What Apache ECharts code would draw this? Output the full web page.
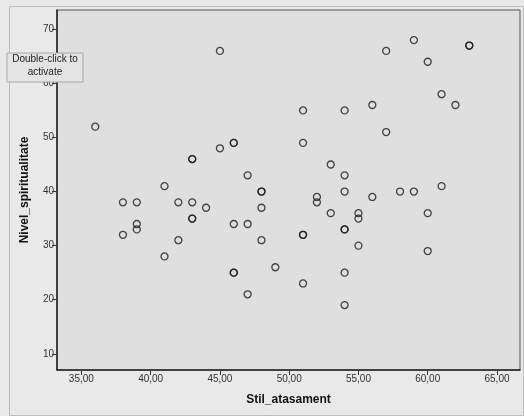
<!DOCTYPE html>
<html>
<head>
<meta charset="utf-8">
<script src="https://cdn.jsdelivr.net/npm/echarts@6/dist/echarts.min.js"></script>
<style>
html,body{margin:0;padding:0;background:#e9e9e9;}
#chart{width:524px;height:416px;}
</style>
</head>
<body>
<div id="chart"></div>
<script>
// Stil_atasament values
var stilAtasament = [36,45,45,46,46,43,43,47,41,38,39,42,43,44,48,48,48,57,59,63,63,60,61,62,51,54,56,57,51,53,54,54,56,58,59,61,52,52,38,39,39,43,43,42,41,46,47,46,46,47,48,53,55,55,60,51,51,54,54,55,60,49,54,51,54];
// Nivel_spiritualitate values
var nivelSpiritualitate = [52,66,48,49,49,46,46,43,41,38,38,38,38,37,40,40,37,66,68,67,67,64,58,56,55,55,56,51,49,45,43,40,39,40,40,41,39,38,32,34,33,35,35,31,28,34,34,25,25,21,31,36,36,35,36,32,32,33,33,30,29,26,25,23,19];
var xTicks = [35,40,45,50,55,60,65];
var yTicks = [10,20,30,40,50,60,70];
var xTitle = 'Stil_atasament';
var yTitle = 'Nivel_spiritualitate';

var points = stilAtasament.map(function(x, i){ return [x, nivelSpiritualitate[i]]; });

var chart = echarts.init(document.getElementById('chart'), null, {renderer:'canvas'});
var font = 'Liberation Sans, Arial, sans-serif';
chart.setOption({
  backgroundColor: '#e9e9e9',
  animation: false,
  grid: {left: 57, top: 10, right: 4, bottom: 46, show: true, backgroundColor: '#dfdfdf', borderColor: '#555', borderWidth: 1},
  xAxis: {
    type: 'value', min: 33.24, max: 66.66,
    name: xTitle, nameLocation: 'middle', nameGap: 24,
    nameTextStyle: {fontFamily: font, fontWeight: 'bold', fontSize: 12, color: '#111'},
    axisLine: {show: true, lineStyle: {color: '#222', width: 1.5}},
    axisTick: {show: true, length: 5, lineStyle: {color: '#333'}, customValues: xTicks},
    axisLabel: {fontFamily: font, fontSize: 10, color: '#333', margin: 4, customValues: xTicks,
      formatter: function(v){ return v.toFixed(2).replace('.', ','); }},
    splitLine: {show: false}
  },
  yAxis: {
    type: 'value', min: 7, max: 73.57,
    name: yTitle, nameLocation: 'middle', nameGap: 26, nameRotate: 90,
    nameTextStyle: {fontFamily: font, fontWeight: 'bold', fontSize: 12, color: '#111'},
    axisLine: {show: true, lineStyle: {color: '#222', width: 1.5}},
    axisTick: {show: true, length: 5, lineStyle: {color: '#333'}, customValues: yTicks},
    axisLabel: {fontFamily: font, fontSize: 10, color: '#333', margin: 3, customValues: yTicks,
      formatter: function(v){ return String(Math.round(v)); }},
    splitLine: {show: false}
  },
  series: [{
    type: 'scatter',
    data: points,
    symbol: 'circle',
    symbolSize: 7,
    itemStyle: {color: 'rgba(0,0,0,0)', borderColor: '#1a1a1a', borderWidth: 1.3}
  }],
  graphic: [
    {type: 'rect', left: 7, top: 4, shape: {width: 514, height: 409}, style: {fill: 'none', stroke: '#bdbdbd', lineWidth: 1}, silent: true},
    {type: 'rect', x: 7, y: 53, shape: {x: 0, y: 0, width: 76, height: 29}, style: {fill: '#e4e4e4', stroke: '#a8a8a8', lineWidth: 1}, z: 100},
    {type: 'text', x: 45, y: 59, z: 101, style: {text: 'Double-click to', fontFamily: font, fontSize: 10, fill: '#222', align: 'center', verticalAlign: 'middle'}},
    {type: 'text', x: 45, y: 72, z: 101, style: {text: 'activate', fontFamily: font, fontSize: 10, fill: '#222', align: 'center', verticalAlign: 'middle'}}
  ]
});
</script>
</body>
</html>
